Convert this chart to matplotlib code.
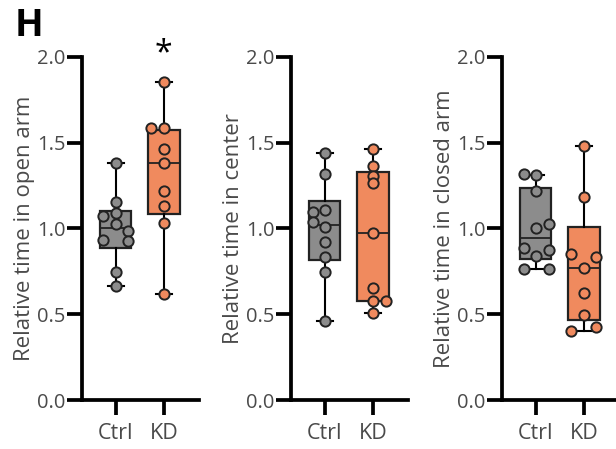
import matplotlib
matplotlib.use('Agg')
from matplotlib import pyplot as plt

plt.rcParams['font.family'] = ['Open Sans', 'DejaVu Sans']

groups = ['Ctrl', 'KD']
ylabels = ['Relative time in open arm', 'Relative time in center',
           'Relative time in closed arm']

# box stats per panel: [Ctrl, KD] -> (min, q1, median, q3, max)
box_stats = [
    [(0.665, 0.888, 1.001, 1.104, 1.380), (0.616, 1.085, 1.380, 1.574, 1.856)],
    [(0.461, 0.816, 1.020, 1.158, 1.442), (0.507, 0.579, 0.976, 1.331, 1.464)],
    [(0.762, 0.824, 0.947, 1.238, 1.312), (0.400, 0.465, 0.772, 1.011, 1.483)],
]

# individual animals
ctrl_open = [1.380, 1.156, 1.092, 1.073, 1.026, 0.985, 0.933, 0.927, 0.744, 0.665]
kd_open = [1.856, 1.584, 1.584, 1.464, 1.380, 1.219, 1.131, 1.030, 0.616]
ctrl_center = [1.442, 1.318, 1.108, 1.094, 1.040, 1.011, 0.919, 0.836, 0.746, 0.461]
kd_center = [1.464, 1.364, 1.308, 1.267, 0.976, 0.655, 0.575, 0.577, 0.507]
ctrl_closed = [1.316, 1.312, 1.221, 1.028, 1.005, 0.886, 0.877, 0.842, 0.762, 0.762]
kd_closed = [1.483, 1.186, 0.849, 0.836, 0.772, 0.622, 0.496, 0.428, 0.400]

# horizontal scatter of the dots (x offsets)
ctrl_open_dx = [0, 0, 0, -0.26, 0, 0.26, -0.26, 0.26, 0, 0]
kd_open_dx = [0, -0.27, 0, 0, 0, 0, 0, 0, 0]
ctrl_center_dx = [0, 0, 0, -0.25, -0.25, 0, 0, 0, 0, 0]
kd_center_dx = [0, 0, 0, 0, 0, 0, 0, 0.27, 0]
ctrl_closed_dx = [-0.25, 0, 0, 0.27, 0, -0.25, 0.27, 0, -0.25, 0.27]
kd_closed_dx = [0, 0, -0.26, 0.26, 0, 0, 0, 0.26, -0.26]

points = [
    [(ctrl_open, ctrl_open_dx), (kd_open, kd_open_dx)],
    [(ctrl_center, ctrl_center_dx), (kd_center, kd_center_dx)],
    [(ctrl_closed, ctrl_closed_dx), (kd_closed, kd_closed_dx)],
]

colors = ['#8c8c8c', '#f08a5e']
label_color = '#4a4a4a'

fig = plt.figure(figsize=(6.16, 4.49), dpi=100)
lefts = [0.1331, 0.4724, 0.8149]

for i in range(3):
    ax = fig.add_axes([lefts[i], 0.1091, 0.19, 0.764])
    stats = []
    for s, name in zip(box_stats[i], groups):
        lo, q1, med, q3, hi = s
        stats.append(dict(med=med, q1=q1, q3=q3, whislo=lo, whishi=hi,
                          fliers=[], label=name))
    bp = ax.bxp(stats, positions=[0, 1], widths=0.65, patch_artist=True,
                showfliers=False,
                boxprops=dict(linewidth=1.6, edgecolor='#222222'),
                medianprops=dict(color='#222222', linewidth=1.3),
                whiskerprops=dict(color='black', linewidth=1.5),
                capprops=dict(color='black', linewidth=1.5))
    for patch, c in zip(bp['boxes'], colors):
        patch.set_facecolor(c)

    for j, (vals, dx) in enumerate(points[i]):
        xs = [j + d for d in dx]
        ax.plot(xs, vals, 'o', ms=7.4, mfc=colors[j], mec='#222222',
                mew=1.4, zorder=5, clip_on=False)

    ax.set_xlim(-0.7, 1.73)
    ax.set_ylim(0, 2.0)
    ax.set_yticks([0, 0.5, 1.0, 1.5, 2.0])
    ax.set_yticklabels(['0.0', '0.5', '1.0', '1.5', '2.0'])
    ax.set_xticks([0, 1])
    ax.set_xticklabels(groups)

    for side in ['top', 'right']:
        ax.spines[side].set_visible(False)
    for side in ['left', 'bottom']:
        ax.spines[side].set_linewidth(2.7)

    ax.tick_params(axis='y', length=11, width=2.7, direction='out', pad=1,
                   labelsize=14.5, labelcolor=label_color)
    ax.tick_params(axis='x', length=10.5, width=2.7, direction='out', pad=6,
                   labelsize=15.5, labelcolor=label_color)
    ax.set_ylabel(ylabels[i], fontsize=16, color=label_color, labelpad=1)

    if i == 0:
        ax.text(1, 1.92, '*', ha='center', va='bottom', fontsize=23,
                color='black')

fig.text(0.024, 0.985, 'H', fontsize=27, fontweight='bold', ha='left',
         va='top')

plt.savefig('out.png', dpi=100)
